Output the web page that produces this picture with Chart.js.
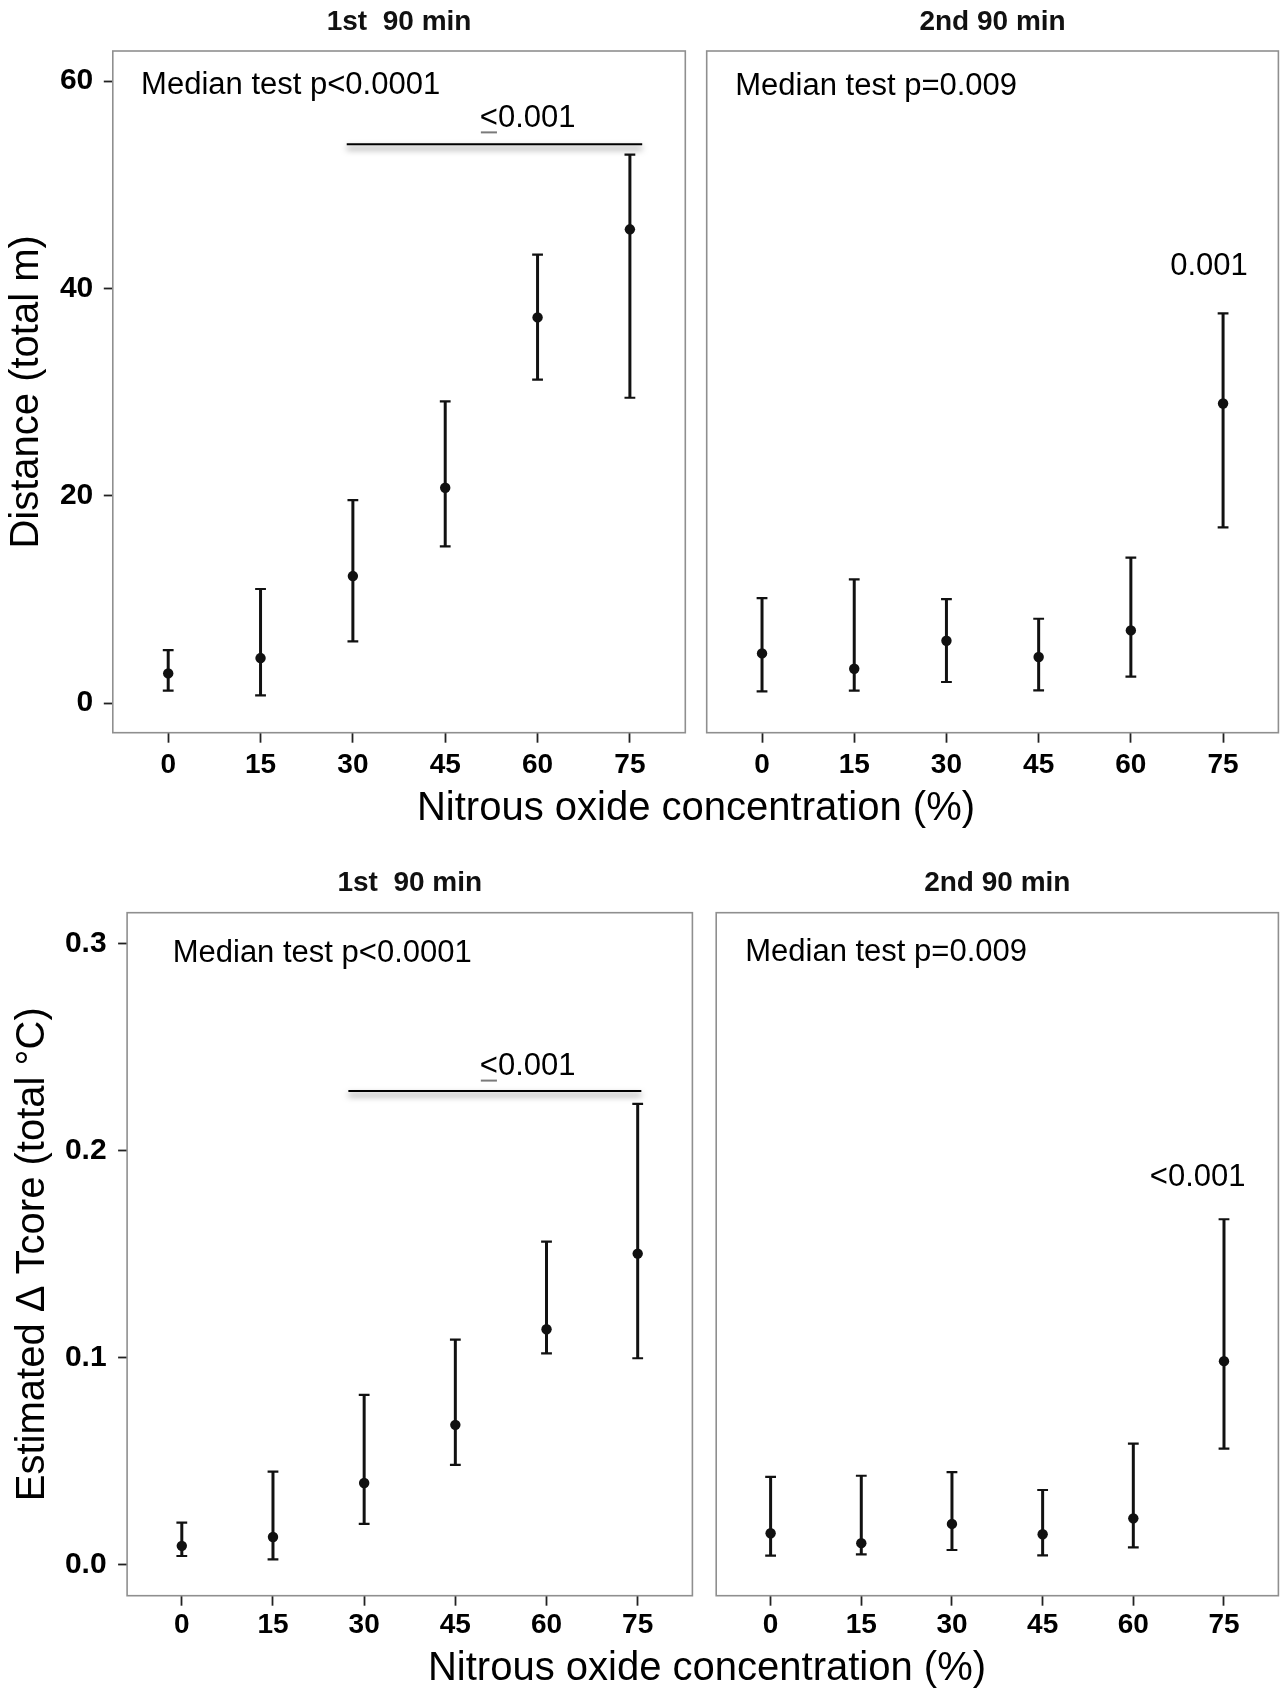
<!DOCTYPE html>
<html>
<head>
<meta charset="utf-8">
<script src="https://cdn.jsdelivr.net/npm/chart.js@4.4.1/dist/chart.umd.min.js"></script>
<style>
  html, body { margin: 0; padding: 0; background: #fff; }
  body { width: 1286px; height: 1688px; position: relative; overflow: hidden;
         font-family: "Liberation Sans", Arial, sans-serif; }
  canvas { position: absolute; }
  .xtitle { position: absolute; font-size: 40px; line-height: 40px; white-space: nowrap;
            color: #000; transform: translateX(-50%); }
</style>
</head>
<body>
<canvas id="distFirst" width="696" height="790" style="left:0px;top:0px"></canvas>
<canvas id="distSecond" width="590" height="790" style="left:696px;top:0px"></canvas>
<canvas id="tcoreFirst" width="700" height="800" style="left:0px;top:850px"></canvas>
<canvas id="tcoreSecond" width="586" height="800" style="left:700px;top:850px"></canvas>
<div class="xtitle" style="left:696px;top:786px">Nitrous oxide concentration (%)</div>
<div class="xtitle" style="left:707px;top:1646px">Nitrous oxide concentration (%)</div>
<script>
// nitrous oxide concentration (%)
const concentrations = [0, 15, 30, 45, 60, 75];

// distance (total m), median and range bars
const distFirstMedian = [2.86, 4.34, 12.25, 20.77, 37.2, 45.7];
const distFirstLow    = [1.19, 0.74, 5.95, 15.11, 31.2, 29.45];
const distFirstHigh   = [5.11, 11.0, 19.58, 29.1, 43.25, 52.9];

const distSecondMedian = [4.79, 3.31, 6.01, 4.44, 7.01, 28.9];
const distSecondLow    = [1.13, 1.19, 2.03, 1.22, 2.54, 16.95];
const distSecondHigh   = [10.13, 11.93, 10.03, 8.13, 14.02, 37.59];

// estimated delta Tcore (total °C)
const tcoreFirstMedian = [0.0089, 0.0132, 0.0393, 0.0674, 0.1136, 0.1502];
const tcoreFirstLow    = [0.0040, 0.0024, 0.0195, 0.048, 0.102, 0.0996];
const tcoreFirstHigh   = [0.0201, 0.0448, 0.0819, 0.1086, 0.156, 0.2226];

const tcoreSecondMedian = [0.0150, 0.0102, 0.0195, 0.0145, 0.0222, 0.0982];
const tcoreSecondLow    = [0.0042, 0.0048, 0.0069, 0.0043, 0.0082, 0.0559];
const tcoreSecondHigh   = [0.0422, 0.0428, 0.0445, 0.0359, 0.0583, 0.1668];

const distanceTicks = [0, 20, 40, 60];
const tcoreTicks = [0, 0.1, 0.2, 0.3];

const FONT = '"Liberation Sans", Arial, sans-serif';

// frame, test labels and the significance bar of each facet
const panelNotes = {
  id: 'panelNotes',
  afterDatasetsDraw(chart, args, opts) {
    const {ctx, chartArea: a, scales: {x, y}} = chart;
    ctx.save();
    ctx.strokeStyle = '#8f8f8f';
    ctx.lineWidth = 1.6;
    ctx.strokeRect(a.left, a.top, a.right - a.left, a.bottom - a.top);

    ctx.fillStyle = '#000';
    ctx.font = '31px ' + FONT;
    ctx.textBaseline = 'middle';
    ctx.textAlign = 'left';
    ctx.fillText(opts.test, x.getPixelForValue(opts.testAt[0]), y.getPixelForValue(opts.testAt[1]));

    const px = x.getPixelForValue(opts.pAt[0]);
    const py = y.getPixelForValue(opts.pAt[1]);
    ctx.textAlign = 'center';
    ctx.fillText(opts.p, px, py);
    if (opts.underline) {
      const w = ctx.measureText(opts.p).width;
      const w1 = ctx.measureText('<').width;
      const left = px - w / 2;
      ctx.strokeStyle = '#7a7a7a';
      ctx.lineWidth = 2;
      ctx.beginPath();
      ctx.moveTo(left + 1, py + 14);
      ctx.lineTo(left + w1 - 1, py + 14);
      ctx.stroke();
    }

    if (opts.bar) {
      ctx.save();
      ctx.shadowColor = 'rgba(0,0,0,0.6)';
      ctx.shadowBlur = 6;
      ctx.shadowOffsetY = 4;
      ctx.strokeStyle = '#000';
      ctx.lineWidth = 2;
      ctx.beginPath();
      ctx.moveTo(x.getPixelForValue(opts.bar[0]), y.getPixelForValue(opts.bar[2]));
      ctx.lineTo(x.getPixelForValue(opts.bar[1]), y.getPixelForValue(opts.bar[2]));
      ctx.stroke();
      ctx.restore();
    }
    ctx.restore();
  }
};

function makePanel(id, medians, lows, highs, o) {
  const whiskers = [];
  const caps = [];
  concentrations.forEach((c, i) => {
    whiskers.push({x: c, y: lows[i]}, {x: c, y: highs[i]}, {x: c, y: null});
    caps.push({x: c, y: lows[i]}, {x: c, y: highs[i]});
  });
  const points = concentrations.map((c, i) => ({x: c, y: medians[i]}));

  return new Chart(document.getElementById(id), {
    type: 'scatter',
    data: {
      datasets: [
        { data: whiskers, showLine: true, spanGaps: false, borderColor: '#111',
          borderWidth: 3, pointRadius: 0 },
        { data: caps, pointStyle: 'line', pointRadius: 5.4, borderColor: '#111', borderWidth: 2.2 },
        { data: points, pointRadius: 5.2, backgroundColor: '#111', borderColor: '#111', borderWidth: 0 }
      ]
    },
    options: {
      responsive: false,
      animation: false,
      events: [],
      layout: { padding: { left: o.padLeft, right: o.padRight, top: 0, bottom: 0 } },
      plugins: {
        legend: { display: false },
        tooltip: { enabled: false },
        title: {
          display: true, text: o.facet, fullSize: false, color: '#111',
          font: { family: FONT, size: 28, weight: 'bold', lineHeight: 1.2 },
          padding: { top: o.titleTop, bottom: o.titleBottom }
        },
        panelNotes: o.notes
      },
      scales: {
        x: {
          type: 'linear', min: -9, max: 84,
          afterBuildTicks: s => { s.ticks = concentrations.map(v => ({value: v})); },
          afterFit: s => { s.height = o.xHeight; },
          border: { display: false },
          grid: { drawOnChartArea: false, drawTicks: true, tickLength: 10,
                  tickColor: '#222', tickWidth: 1.8 },
          ticks: { color: '#000', padding: o.xPad, maxRotation: 0, autoSkip: false,
                   font: { family: FONT, size: 28, weight: 'bold' } }
        },
        y: {
          type: 'linear', min: o.yMin, max: o.yMax, display: o.showY,
          afterBuildTicks: s => { s.ticks = o.yTicks.map(v => ({value: v})); },
          afterFit: s => { s.width = o.yWidth; },
          border: { display: false },
          grid: { drawOnChartArea: false, drawTicks: true, tickLength: 9,
                  tickColor: '#222', tickWidth: 1.8 },
          ticks: { color: '#000', padding: o.yPad, autoSkip: false,
                   font: { family: FONT, size: 30, weight: 'bold' },
                   callback: o.yFormat },
          title: { display: true, text: o.yTitle, color: '#000',
                   font: { family: FONT, size: 40 }, padding: { top: o.yTitlePad, bottom: 0 } }
        }
      }
    },
    plugins: [panelNotes]
  });
}

const distAxis = { yMin: -2.86, yMax: 62.9, yTicks: distanceTicks, yFormat: v => String(v),
                   yTitle: 'Distance (total m)', xHeight: 57.3, xPad: 5.5,
                   titleTop: 5.2, titleBottom: 12.2 };
const tcoreAxis = { yMin: -0.0152, yMax: 0.315, yTicks: tcoreTicks, yFormat: v => v.toFixed(1),
                    yTitle: 'Estimated \u0394 Tcore (total \u00b0C)', xHeight: 54.3, xPad: 2.5,
                    titleTop: 16.5, titleBottom: 12.6 };

makePanel('distFirst', distFirstMedian, distFirstLow, distFirstHigh, Object.assign({}, distAxis, {
  facet: '1st  90 min', showY: true, yWidth: 112.8, yPad: 10.5, yTitlePad: 3.3,
  padLeft: 0, padRight: 10.7,
  notes: { test: 'Median test p<0.0001', testAt: [-4.4, 59.6],
           p: '<0.001', pAt: [58.4, 56.4], underline: true, bar: [29, 77, 53.9] }
}));

makePanel('distSecond', distSecondMedian, distSecondLow, distSecondHigh, Object.assign({}, distAxis, {
  facet: '2nd 90 min', showY: false, yWidth: 0, yPad: 11, yTitlePad: 0,
  padLeft: 10.7, padRight: 7.4,
  notes: { test: 'Median test p=0.009', testAt: [-4.35, 59.5],
           p: '0.001', pAt: [72.7, 42.15], underline: false, bar: null }
}));

makePanel('tcoreFirst', tcoreFirstMedian, tcoreFirstLow, tcoreFirstHigh, Object.assign({}, tcoreAxis, {
  facet: '1st  90 min', showY: true, yWidth: 127.1, yPad: 11.5, yTitlePad: 9,
  padLeft: 0, padRight: 5.2,
  notes: { test: 'Median test p<0.0001', testAt: [-1.5, 0.2955],
           p: '<0.001', pAt: [56.9, 0.2406], underline: true, bar: [27.4, 75.6, 0.2288] }
}));

makePanel('tcoreSecond', tcoreSecondMedian, tcoreSecondLow, tcoreSecondHigh, Object.assign({}, tcoreAxis, {
  facet: '2nd 90 min', showY: false, yWidth: 0, yPad: 12, yTitlePad: 0,
  padLeft: 16.2, padRight: 1.3,
  notes: { test: 'Median test p=0.009', testAt: [-4.2, 0.2958],
           p: '<0.001', pAt: [70.65, 0.1868], underline: false, bar: null }
}));
</script>
</body>
</html>
